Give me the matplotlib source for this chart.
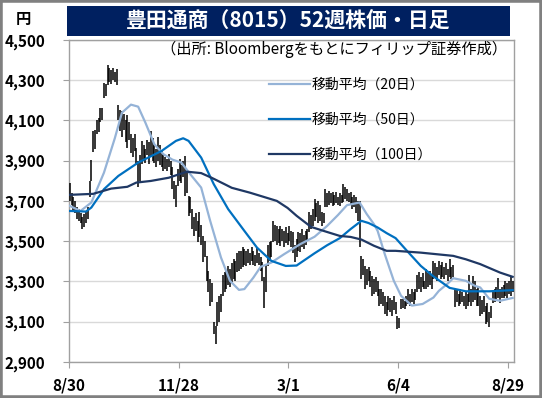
import matplotlib
matplotlib.use("Agg")
import matplotlib.pyplot as plt
from matplotlib.patches import Rectangle
from matplotlib.ticker import FuncFormatter
import numpy as np

plt.rcParams['font.family'] = ['Noto Sans CJK JP', 'DejaVu Sans']

# daily high / low (yen), 8/30 .. 8/29
high = [3790, 3740, 3720, 3700, 3670, 3660, 3640, 3620, 3635, 3650,
        3670, 3800, 3905, 4045, 4050, 4100, 4114, 4163, 4160, 4287,
        4280, 4376, 4360, 4350, 4361, 4340, 4355, 4178, 4150, 4144,
        4130, 4100, 4129, 4090, 4030, 4010, 4030, 3965, 3900, 3930,
        3995, 3980, 3960, 4000, 3990, 4045, 4010, 3980, 3960, 4015,
        3980, 3950, 3931, 3920, 3910, 3931, 3900, 3866, 3800, 3780,
        3860, 3906, 3880, 3900, 3921, 3850, 3723, 3720, 3658, 3620,
        3640, 3600, 3644, 3580, 3525, 3500, 3426, 3350, 3312, 3290,
        3100, 3080, 3200, 3228, 3240, 3330, 3347, 3350, 3377, 3360,
        3390, 3411, 3400, 3440, 3451, 3450, 3471, 3460, 3450, 3461,
        3440, 3471, 3450, 3430, 3471, 3440, 3420, 3396, 3320, 3380,
        3480, 3495, 3500, 3600, 3580, 3574, 3560, 3574, 3560, 3550,
        3570, 3540, 3574, 3550, 3545, 3480, 3510, 3545, 3540, 3560,
        3530, 3550, 3560, 3644, 3630, 3660, 3708, 3690, 3700, 3680,
        3644, 3640, 3758, 3740, 3750, 3740, 3743, 3730, 3743, 3720,
        3740, 3730, 3782, 3770, 3760, 3740, 3743, 3720, 3730, 3720,
        3700, 3700, 3426, 3410, 3377, 3360, 3370, 3350, 3327, 3310,
        3320, 3300, 3263, 3260, 3250, 3228, 3200, 3228, 3220, 3210,
        3228, 3200, 3129, 3120, 3213, 3213, 3205, 3230, 3263, 3240,
        3263, 3250, 3260, 3330, 3347, 3320, 3340, 3300, 3362, 3340,
        3350, 3330, 3401, 3390, 3370, 3400, 3380, 3396, 3370, 3390,
        3360, 3410, 3370, 3380, 3263, 3263, 3240, 3263, 3250, 3230,
        3248, 3240, 3330, 3260, 3327, 3300, 3260, 3270, 3228, 3210,
        3228, 3178, 3194, 3150, 3178, 3250, 3260, 3270, 3318, 3260,
        3270, 3280, 3303, 3290, 3300, 3327, 3303]
low = [3700, 3680, 3650, 3640, 3610, 3600, 3590, 3560, 3570, 3590,
       3610, 3720, 3800, 3945, 3960, 4030, 4040, 4094, 4100, 4213,
       4220, 4277, 4290, 4280, 4300, 4290, 4277, 4100, 4045, 4015,
       4050, 3990, 3965, 4000, 3940, 3916, 3950, 3880, 3767, 3800,
       3881, 3900, 3890, 3930, 3881, 3920, 3900, 3890, 3866, 3900,
       3880, 3870, 3847, 3860, 3850, 3870, 3830, 3760, 3708, 3668,
       3772, 3800, 3790, 3820, 3723, 3740, 3624, 3640, 3560, 3525,
       3550, 3495, 3520, 3480, 3396, 3420, 3300, 3248, 3178, 3200,
       3040, 2990, 3079, 3100, 3150, 3228, 3250, 3263, 3280, 3270,
       3297, 3310, 3300, 3347, 3350, 3362, 3370, 3380, 3377, 3390,
       3380, 3400, 3380, 3377, 3390, 3380, 3350, 3300, 3170, 3250,
       3377, 3400, 3420, 3495, 3500, 3480, 3490, 3475, 3500, 3470,
       3490, 3480, 3500, 3470, 3440, 3396, 3420, 3450, 3446, 3470,
       3460, 3480, 3500, 3545, 3560, 3574, 3600, 3620, 3590, 3600,
       3574, 3590, 3668, 3670, 3680, 3690, 3673, 3680, 3690, 3680,
       3673, 3690, 3693, 3710, 3700, 3693, 3680, 3658, 3670, 3640,
       3600, 3470, 3312, 3330, 3263, 3280, 3300, 3270, 3228, 3240,
       3250, 3230, 3178, 3190, 3180, 3140, 3129, 3160, 3150, 3130,
       3160, 3140, 3064, 3070, 3163, 3170, 3165, 3178, 3190, 3180,
       3200, 3190, 3210, 3248, 3260, 3250, 3270, 3260, 3263, 3270,
       3280, 3263, 3312, 3320, 3300, 3330, 3312, 3320, 3310, 3330,
       3300, 3320, 3310, 3320, 3174, 3200, 3178, 3190, 3200, 3180,
       3163, 3180, 3200, 3178, 3200, 3210, 3180, 3178, 3129, 3140,
       3150, 3089, 3100, 3075, 3120, 3194, 3200, 3210, 3220, 3194,
       3220, 3218, 3230, 3220, 3240, 3230, 3250]

# moving averages, read at sampled trading days
ma20_day = [0, 6, 12, 19, 25, 29, 34, 38, 42, 47, 52, 57, 62, 67, 73, 78,
            84, 89, 94, 97, 102, 106, 112, 119, 128, 136, 143, 149, 154,
            161, 165, 169, 171, 175, 180, 184, 190, 196, 202, 205, 210,
            213, 220, 225, 228, 233, 239, 246]
ma20 = [3675, 3650, 3692, 3840, 4010, 4138, 4178, 4168, 4089, 3981, 3932,
        3905, 3890, 3832, 3766, 3601, 3419, 3303, 3258, 3262, 3319, 3372,
        3394, 3435, 3485, 3522, 3576, 3630, 3679, 3692, 3634, 3584, 3551,
        3435, 3303, 3229, 3180, 3188, 3220, 3253, 3290, 3316, 3303, 3278,
        3270, 3214, 3204, 3218]

ma50_day = [0, 9, 12, 19, 27, 38, 51, 59, 63, 66, 73, 80, 88, 97, 104,
            112, 120, 126, 136, 143, 150, 156, 162, 166, 171, 176, 181,
            187, 195, 202, 211, 220, 233, 246]
ma50 = [3650, 3647, 3667, 3758, 3824, 3890, 3948, 3998, 4011, 3998, 3915,
        3783, 3659, 3551, 3468, 3402, 3377, 3379, 3440, 3480, 3515, 3560,
        3601, 3590, 3568, 3540, 3515, 3455, 3377, 3325, 3268, 3251, 3251,
        3257]

ma100_day = [0, 13, 23, 32, 37, 45, 55, 65, 73, 79, 86, 90, 100, 115, 121,
             126, 134, 141, 150, 156, 162, 169, 176, 181, 195, 213, 220,
             228, 239, 246]
ma100 = [3730, 3735, 3761, 3770, 3791, 3799, 3815, 3845, 3838, 3814, 3783,
         3765, 3741, 3700, 3665, 3626, 3571, 3551, 3526, 3521, 3508, 3477,
         3452, 3452, 3443, 3427, 3410, 3386, 3344, 3323]

tick_pos = [0, 61, 122, 183, 244]
tick_lab = ['8/30', '11/28', '3/1', '6/4', '8/29']

c20 = '#95B3D7'
c50 = '#0070C0'
c100 = '#1F3864'
grid_c = '#D9D9D9'
spine_c = '#A0A0A0'

fig = plt.figure(figsize=(5.42, 3.98), dpi=100)
ax = fig.add_axes([0.127, 0.0905, 0.8205, 0.8095])

n = len(high)
x = np.arange(n) + 0.5
ax.vlines(x, low, high, color='black', linewidth=1.1, zorder=3)

ax.plot(np.array(ma20_day) + 0.5, ma20, color=c20, lw=1.6, zorder=4,
        label='移動平均（20日）')
ax.plot(np.array(ma50_day) + 0.5, ma50, color=c50, lw=1.6, zorder=4,
        label='移動平均（50日）')
ax.plot(np.array(ma100_day) + 0.5, ma100, color=c100, lw=1.6, zorder=4,
        label='移動平均（100日）')

ax.set_xlim(0, n)
ax.set_ylim(2900, 4500)
ax.set_yticks(np.arange(2900, 4501, 200))
ax.yaxis.set_major_formatter(FuncFormatter(lambda v, p: '{:,.0f}'.format(v)))
ax.set_xticks(tick_pos)
ax.set_xticklabels(tick_lab)
ax.grid(axis='y', color=grid_c, linewidth=1.0, zorder=0)
ax.set_axisbelow(True)
for s in ax.spines.values():
    s.set_color(spine_c)
    s.set_linewidth(1.0)
ax.tick_params(axis='y', direction='out', length=4, color=spine_c, pad=13,
               labelsize=11)
ax.tick_params(axis='x', direction='out', length=4, color=spine_c, pad=7,
               labelsize=11)
for t in ax.get_xticklabels() + ax.get_yticklabels():
    t.set_fontweight('bold')

leg = ax.legend(loc='upper left', bbox_to_anchor=(0.451, 0.881),
                frameon=False, fontsize=10, handlelength=2.9,
                handletextpad=0.15, labelspacing=1.5, borderpad=0,
                borderaxespad=0)

ax.text(0.985, 0.970, '（出所: Bloombergをもとにフィリップ証券作成）',
        transform=ax.transAxes, ha='right', va='center', fontsize=11)

# title bar
fig.patches.append(Rectangle((0.1244, 0.9088), 0.8166, 0.0756,
                             transform=fig.transFigure, facecolor='#002060',
                             edgecolor='none'))
fig.text(0.532, 0.9467, '豊田通商（8015）52週株価・日足', color='white',
         fontsize=15, fontweight='bold', ha='center', va='center')
fig.text(0.044, 0.952, '円', fontsize=11, fontweight='bold',
         ha='center', va='center')

# outer frame
fig.patches.append(Rectangle((0, 0), 1, 1, transform=fig.transFigure,
                             fill=False, edgecolor='#808080', linewidth=4))

fig.savefig('out.png', dpi=100)
